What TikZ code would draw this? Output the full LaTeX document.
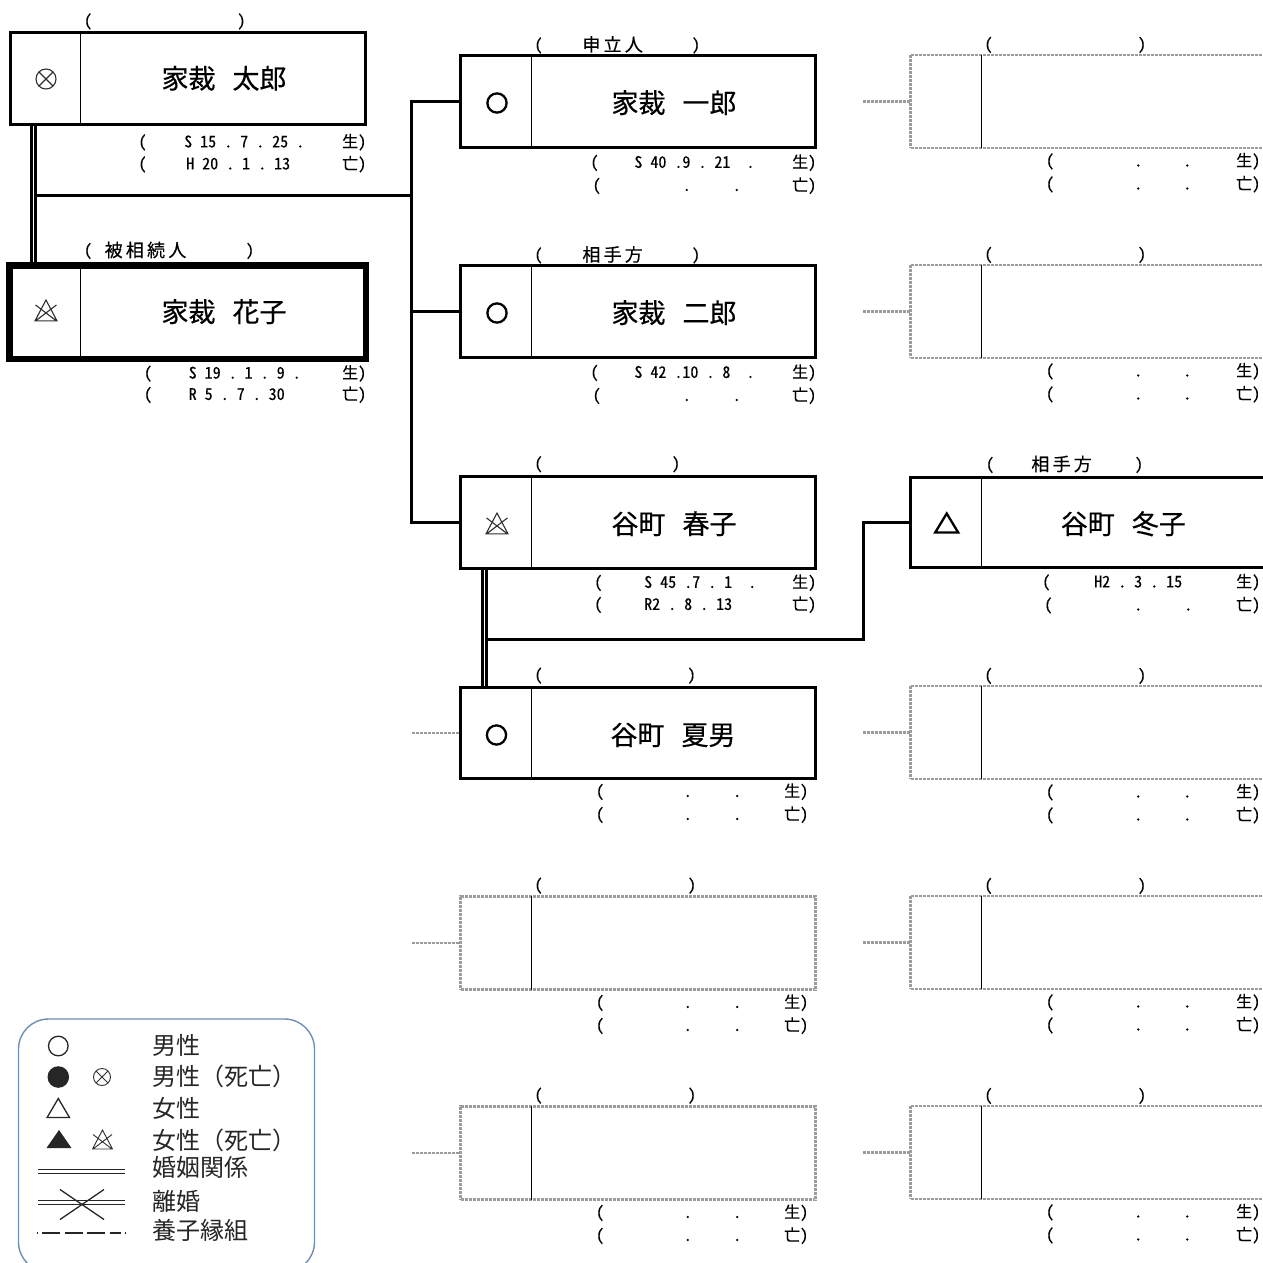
\documentclass[tikz,border=0pt]{standalone}
\usepackage{fontspec}
\setmainfont{Noto Sans CJK JP}
\newfontfamily\dfont[RawFeature=+hwid,FakeBold=0.3]{Noto Sans CJK JP}
\newfontfamily\nfont[FakeBold=0.4]{Noto Sans CJK JP}
\pgfdeclarelayer{bg}
\pgfsetlayers{bg,main}
\definecolor{dotgray}{HTML}{9C9C9C}
\definecolor{legblue}{HTML}{6E8FB4}
\definecolor{legdark}{HTML}{262626}
\definecolor{symgray}{HTML}{303030}
\newcommand\smfont{\dfont\fontsize{16}{16}\selectfont\frenchspacing\spaceskip=8pt\relax}
\newcommand\lbfont{\dfont\fontsize{18}{18}\selectfont}
\newcommand\nmfont{\nfont\fontsize{27}{28}\selectfont}
\newcommand\lgfont{\fontsize{24}{25}\selectfont}
\newcommand\nsp{\hspace{17pt}}
\newcommand\lsp{\hspace{3.2pt}}
\tikzset{
 pbox/.style={draw, line width=3pt, fill=white, rectangle, inner sep=0pt, outer sep=0pt},
 hbox/.style={pbox, line width=6.7pt},
 dbox/.style={draw=dotgray, line width=2.5pt, dash pattern=on 3pt off 1pt, fill=white, rectangle, inner sep=0pt, outer sep=0pt},
 divl/.style={line width=1.3pt, solid, draw=black},
 conn/.style={line width=2.8pt},
 marr/.style={line width=2.6pt, double=white, double distance=1.3pt},
 stub/.style={draw=dotgray, line width=2.5pt, dash pattern=on 3pt off 1pt},
 nm/.style={font=\nmfont, anchor=base, inner sep=0pt},
 sm/.style={font=\smfont, anchor=base west, inner sep=0pt},
 smc/.style={font=\smfont, anchor=base, inner sep=0pt},
 lbt/.style={font=\lbfont, anchor=base west, inner sep=0pt},
 lg/.style={font=\lgfont, text=legdark, anchor=base west, inner sep=0pt},
 legsym/.style={draw=legdark, line width=1.3pt},
}
% date line: name, y, x(, xtext, text, xsym, sym
\newcommand\dl[7]{%
  \node[smc] (#1p) at (#3,#2) {(};
  \node[sm] (#1d) at (#4,#2) {#5};
  \node[sm] (#1s) at (#6,#2) {#7};}
% empty date line: name, y, x(, xdot1, xdot2, xsym, sym
\newcommand\dle[7]{%
  \node[smc] (#1p) at (#3,#2) {(};
  \node[smc] (#1a) at (#4,#2) {.};
  \node[smc] (#1b) at (#5,#2) {.};
  \node[sm] (#1s) at (#6,#2) {#7};}
% label: name, y, x(, xtext, text, x)
\newcommand\lb[6]{%
  \node[smc] (#1p) at (#3,#2) {(};
  \node[lbt] (#1t) at (#4,{#2+0.9}) {#5};
  \node[smc] (#1c) at (#6,#2) {)};}
\newcommand\lbe[4]{%
  \node[smc] (#1p) at (#3,#2) {(};
  \node[smc] (#1c) at (#4,#2) {)};}
% symbols
\newcommand\symM[2]{\draw[line width=2.3pt] (#1,#2) circle (9.6);}
\newcommand\symF[2]{\draw[line width=2.3pt, line join=miter] (#1,#2) ++(0,-10.5) -- ++(11.5,19) -- ++(-23,0) -- cycle;}
\newcommand\symMD[4]{\draw[line width=#4, symgray] (#1,#2) circle (#3)
   (#1,#2) ++(-0.7071*#3,-0.7071*#3) -- ++(1.4142*#3,1.4142*#3)
   (#1,#2) ++(0.7071*#3,-0.7071*#3) -- ++(-1.4142*#3,1.4142*#3);}
\newcommand\symFD[4]{\draw[line width=#4, symgray, line join=miter] (#1,#2) ++(0,-#3) -- ++(#3,1.9*#3) -- ++(-2*#3,0) -- cycle
   (#1,#2) ++(-0.95*#3,-0.55*#3) -- ++(1.9*#3,1.45*#3)
   (#1,#2) ++(0.95*#3,-0.55*#3) -- ++(-1.9*#3,1.45*#3);}
\begin{document}
\begin{tikzpicture}[x=1pt,y=-1pt]
\useasboundingbox (0,0) rectangle (1263,1263);
% ---- person boxes
\node[pbox, minimum width=355.5, minimum height=91] (taro) at (187.75,78.5) {};
\node[hbox, minimum width=356.6, minimum height=93.3] (hanako) at (187.7,312.3) {};
\node[pbox, minimum width=355, minimum height=92.3] (ichiro) at (638,101.6) {};
\node[pbox, minimum width=355, minimum height=92.3] (jiro) at (638,311.6) {};
\node[pbox, minimum width=355, minimum height=91.3] (haruko) at (638,522.6) {};
\node[pbox, minimum width=355, minimum height=91.6] (natsuo) at (638,733) {};
\node[pbox, minimum width=355.5, minimum height=90.6] (fuyuko) at (1088.25,522.5) {};
% ---- empty (dotted) boxes
\node[dbox, minimum width=355.4, minimum height=93] (rd1) at (1088.3,101.5) {};
\node[dbox, minimum width=355.4, minimum height=93] (rd2) at (1088.3,311.5) {};
\node[dbox, minimum width=355.4, minimum height=93] (rd3) at (1088.3,732.5) {};
\node[dbox, minimum width=355.4, minimum height=93] (rd4) at (1088.3,942.5) {};
\node[dbox, minimum width=355.4, minimum height=93] (rd5) at (1088.3,1152.5) {};
\node[dbox, minimum width=354.8, minimum height=93.4] (md1) at (638.1,943) {};
\node[dbox, minimum width=354.8, minimum height=93.4] (md2) at (638.1,1153) {};
% dividers
\foreach \n in {taro,hanako,ichiro,jiro,haruko,natsuo,fuyuko,rd1,rd2,rd3,rd4,rd5,md1,md2}
  \draw[divl] ([xshift=70.8pt]\n.north west) -- ([xshift=70.8pt]\n.south west);
% ---- connectors
\coordinate (mj1) at (35,195.5);
\coordinate (bj) at (411.5,195.5);
\coordinate (mj2) at (486.5,639.5);
\coordinate (kj) at (863.5,639.5);
\coordinate (s1) at (863,101.5);
\coordinate (s2) at (863,311.5);
\coordinate (s3) at (863,732.5);
\coordinate (s4) at (863,942.5);
\coordinate (s5) at (863,1152.5);
\coordinate (s6) at (412,733);
\coordinate (s7) at (412,943);
\coordinate (s8) at (412,1153);
\begin{pgfonlayer}{bg}
\draw[marr] ([xshift=23.5pt]taro.south west) -- ([xshift=23.5pt]taro.south west |- hanako.north);
\draw[conn] (mj1) -- (bj);
\draw[conn] (bj) |- (ichiro.west);
\draw[conn] (bj) |- (jiro.west);
\draw[conn] (bj) |- (haruko.west);
\draw[marr] ([xshift=24pt]haruko.south west) -- ([xshift=24pt]haruko.south west |- natsuo.north);
\draw[conn] (mj2) -- (kj) |- (fuyuko.west);
\draw[stub] (s1) -- (rd1.west);
\draw[stub] (s2) -- (rd2.west);
\draw[stub] (s3) -- (rd3.west);
\draw[stub] (s4) -- (rd4.west);
\draw[stub] (s5) -- (rd5.west);
\draw[stub] (s6) -- (natsuo.west);
\draw[stub] (s7) -- (md1.west);
\draw[stub] (s8) -- (md2.west);
\end{pgfonlayer}
% ---- symbols
\symMD{46}{79}{10}{1.1pt}
\symFD{46}{311}{11}{1.1pt}
\symM{497}{103}
\symM{497}{313}
\symFD{497}{524}{11}{1.1pt}
\symM{496.5}{735}
\symF{946.7}{524}
% ---- names
\node[nm] (taron) at (224,88.5) {家裁\nsp 太郎};
\node[nm] (hanakon) at (224,321.9) {家裁\nsp 花子};
\node[nm] (ichiron) at (674,112.9) {家裁\nsp 一郎};
\node[nm] (jiron) at (674,322.9) {家裁\nsp 二郎};
\node[nm] (harukon) at (674,533.9) {谷町\nsp 春子};
\node[nm] (natsuon) at (673,744.9) {谷町\nsp 夏男};
\node[nm] (fuyukon) at (1123.3,533.9) {谷町\nsp 冬子};
% ---- labels above boxes
\lbe{tl}{26.4}{88}{241.5}
\lb{hl}{255.9}{88}{104.5}{被\lsp 相\lsp 続\lsp 人}{250}
\lb{il}{50.4}{538.5}{582.2}{申\lsp 立\lsp 人}{696}
\lb{jl}{260.4}{538.5}{582.2}{相\lsp 手\lsp 方}{696}
\lbe{hrl}{469.2}{538.5}{676}
\lb{fl}{469.9}{990}{1031.2}{相\lsp 手\lsp 方}{1139}
\lbe{nl}{680.6}{538.5}{691.7}
\lbe{rla}{49.9}{988.5}{1142}
\lbe{rlb}{259.9}{988.5}{1142}
\lbe{rlc}{680.9}{988.5}{1142}
\lbe{rld}{890.9}{988.5}{1142}
\lbe{rle}{1100.9}{988.5}{1142}
\lbe{mla}{890.6}{538.5}{692}
\lbe{mlb}{1100.6}{538.5}{692}
% ---- dates
\dl{tb}{147.4}{142.5}{184}{S 15 . 7 . 25 .}{342}{生)}
\dl{td}{169.4}{142.5}{186}{H 20 . 1 . 13}{342}{亡)}
\dl{hb}{378.6}{148}{188.5}{S 19 . 1 . 9 .}{342}{生)}
\dl{hd}{399.9}{148}{188.5}{R 5 . 7 . 30}{342}{亡)}
\dl{ib}{167.9}{594.5}{634.2}{S 40 .9 . 21\ \ .}{792}{生)}
\dle{id}{190.9}{596.7}{686.7}{736.7}{792}{亡)}
\dl{jb}{377.9}{594.5}{634.2}{S 42 .10 . 8\ \ .}{792}{生)}
\dle{jd}{400.9}{596.7}{686.7}{736.7}{792}{亡)}
\dl{hrb}{587.9}{598.3}{644}{S 45 .7 . 1\ \ .}{792}{生)}
\dl{hrd}{609.9}{598.3}{644}{R2 . 8 . 13}{792}{亡)}
\dl{fb}{587.4}{1046.3}{1094}{H2 . 3 . 15}{1236}{生)}
\dle{fd}{610.4}{1048.3}{1138.3}{1188.3}{1236}{亡)}
\dle{nb}{796.9}{600}{687.7}{737.3}{784}{生)}
\dle{nd}{819.9}{600}{687.7}{737.3}{784}{亡)}
\dle{mab}{1007.9}{600}{687.7}{737.3}{784}{生)}
\dle{mad}{1030.9}{600}{687.7}{737.3}{784}{亡)}
\dle{mbb}{1217.9}{600}{687.7}{737.3}{784}{生)}
\dle{mbd}{1240.9}{600}{687.7}{737.3}{784}{亡)}
\dle{rab}{166.4}{1050}{1138.3}{1187.3}{1236}{生)}
\dle{rad}{189.4}{1050}{1138.3}{1187.3}{1236}{亡)}
\dle{rbb}{376.4}{1050}{1138.3}{1187.3}{1236}{生)}
\dle{rbd}{399.4}{1050}{1138.3}{1187.3}{1236}{亡)}
\dle{rcb}{797.4}{1050}{1138.3}{1187.3}{1236}{生)}
\dle{rcd}{820.4}{1050}{1138.3}{1187.3}{1236}{亡)}
\dle{rdb}{1007.4}{1050}{1138.3}{1187.3}{1236}{生)}
\dle{rdd}{1030.4}{1050}{1138.3}{1187.3}{1236}{亡)}
\dle{reb}{1217.4}{1050}{1138.3}{1187.3}{1236}{生)}
\dle{red}{1240.4}{1050}{1138.3}{1187.3}{1236}{亡)}
% ---- legend
\node[draw=legblue, line width=1.4pt, rounded corners=30pt, fill=white, minimum width=296, minimum height=253, inner sep=0pt, outer sep=0pt] (legend) at (166.5,1145.5) {};
\draw[legsym] (58.3,1046) circle (9.8);
\fill[legdark] (58.3,1077) circle (10.8);
\symMD{102}{1077}{8.5}{0.9pt}
\draw[legsym, line join=miter] (58.3,1098.5) -- (69.5,1117.5) -- (47.1,1117.5) -- cycle;
\fill[legdark] (59,1130) -- (71.5,1148) -- (46.5,1148) -- cycle;
\symFD{102.5}{1140}{10}{0.9pt}
\draw[legsym, line width=1.6pt] (38.3,1169.3) -- (125,1169.3) (38.3,1173.3) -- (125,1173.3);
\draw[legsym, line width=1.6pt] (38.3,1200.5) -- (125,1200.5) (38.3,1204.5) -- (125,1204.5);
\draw[legsym] (60,1189.5) -- (104,1219.5) (60,1219.5) -- (104,1189.5);
\draw[legdark, line width=2.2pt] (36.8,1232.7) -- (38.3,1232.7)
  (42,1232.7) -- (60,1232.7) (64.5,1232.7) -- (82.5,1232.7)
  (87,1232.7) -- (105,1232.7) (109.5,1232.7) -- (121,1232.7)
  (124.5,1232.7) -- (126,1232.7);
\node[lg] (lg1) at (152,1054.6) {男性};
\node[lg] (lg2) at (152,1085.8) {男性（死亡）};
\node[lg] (lg3) at (152,1117.4) {女性};
\node[lg] (lg4) at (152,1149.1) {女性（死亡）};
\node[lg] (lg5) at (152,1176.1) {婚姻関係};
\node[lg] (lg6) at (152,1210.1) {離婚};
\node[lg] (lg7) at (152,1239.1) {養子縁組};
\end{tikzpicture}
\end{document}
